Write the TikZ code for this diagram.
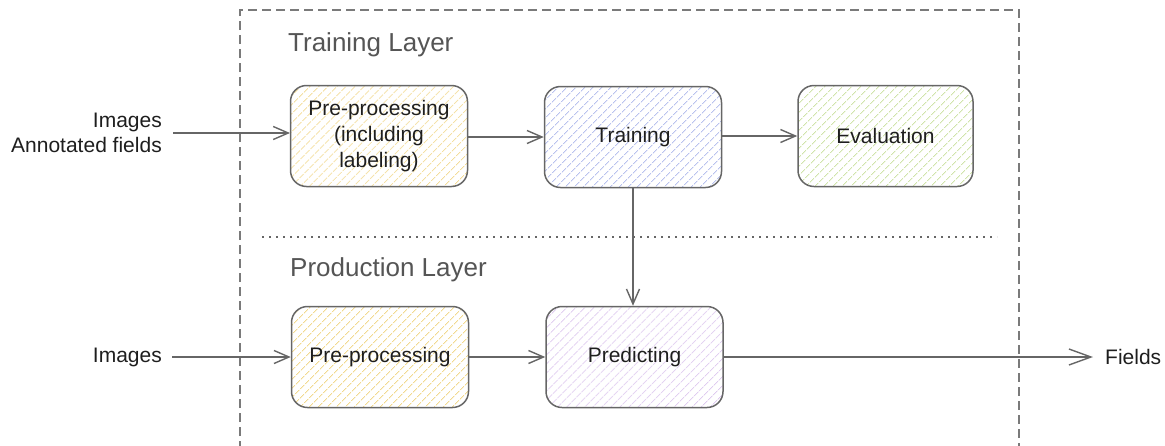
\documentclass[tikz,border=0pt]{standalone}
\usepackage{fontspec}
\setmainfont{Liberation Sans}
\usetikzlibrary{arrows.meta,patterns.meta}

\definecolor{edgegray}{HTML}{666666}
\definecolor{framegray}{HTML}{7A7A7A}
\definecolor{titlegray}{HTML}{555555}
\definecolor{textdark}{HTML}{1E1E1E}
\definecolor{hatchyellow}{HTML}{F2D98F}
\definecolor{hatchblue}{HTML}{B9C2EE}
\definecolor{hatchgreen}{HTML}{D0E4AA}
\definecolor{hatchpurple}{HTML}{DCC6EE}

\tikzset{
  stagebox/.style={draw=edgegray, line width=1.5pt, rounded corners=16pt,
    minimum width=177pt, minimum height=101pt, align=center,
    text=textdark, font=\fontsize{21}{26}\selectfont,
    pattern={Lines[angle=45,distance=6.5pt,line width=1pt]}},
  yellowhatch/.style={pattern color=hatchyellow},
  bluehatch/.style={pattern color=hatchblue},
  greenhatch/.style={pattern color=hatchgreen},
  purplehatch/.style={pattern color=hatchpurple},
  flow/.style={draw=edgegray, line width=1.4pt,
    -{Straight Barb[length=15pt,width=13pt,line width=1.4pt]}},
  bigflow/.style={draw=edgegray, line width=1.4pt,
    -{Straight Barb[length=22pt,width=16pt,line width=1.4pt]}},
  sidelabel/.style={text=textdark, font=\fontsize{21}{25}\selectfont, inner sep=0pt},
  layertitle/.style={text=titlegray, font=\fontsize{26}{30}\selectfont, inner sep=0pt, anchor=west},
}

\begin{document}
\begin{tikzpicture}[x=1pt, y=-1pt]
  \useasboundingbox (0,0) rectangle (1165,445);

  % outer dashed frame, open at the bottom
  \draw[framegray, line width=1.2pt, dash pattern=on 9pt off 5pt]
    (240,450) -- (240,10) -- (1019,10) -- (1019,450);

  % divider between the two layers
  \draw[edgegray, line width=1.6pt, dash pattern=on 2pt off 5pt]
    (262,237) -- (997,237);

  \node[layertitle] (ttitle) at (288,45) {Training Layer};
  \node[layertitle] (ptitle) at (290,270) {Production Layer};

  % training layer
  \node[stagebox, yellowhatch] (pre1) at (379,136) {Pre-processing\\(including\\labeling)};
  \node[stagebox, bluehatch] (train) at (633,137) {Training};
  \node[stagebox, greenhatch, minimum width=175pt] (eval) at (885.5,136) {Evaluation};

  % production layer
  \node[stagebox, yellowhatch] (pre2) at (380,357) {Pre-processing};
  \node[stagebox, purplehatch] (pred) at (634.5,357) {Predicting};

  % inputs and output
  \node[sidelabel, anchor=east, align=right] (in1) at (162,133) {Images\\Annotated fields};
  \node[sidelabel, anchor=east] (in2) at (162,357) {Images};
  \node[sidelabel, anchor=west] (out) at (1105,357) {Fields};

  \coordinate (in1end) at (173,133);
  \coordinate (in2end) at (172,357);
  \coordinate (outend) at (1093,357);

  \draw[flow] (in1end) -- (in1end -| pre1.west);
  \draw[flow] (pre1.east |- train.west) -- (train.west);
  \draw[flow] (train.east |- eval.west) -- (eval.west);
  \draw[flow] (train.south) -- (train.south |- pred.north);

  \draw[flow] (in2end) -- (pre2.west);
  \draw[flow] (pre2.east) -- (pred.west);
  \draw[bigflow] (pred.east) -- (outend);
\end{tikzpicture}
\end{document}
